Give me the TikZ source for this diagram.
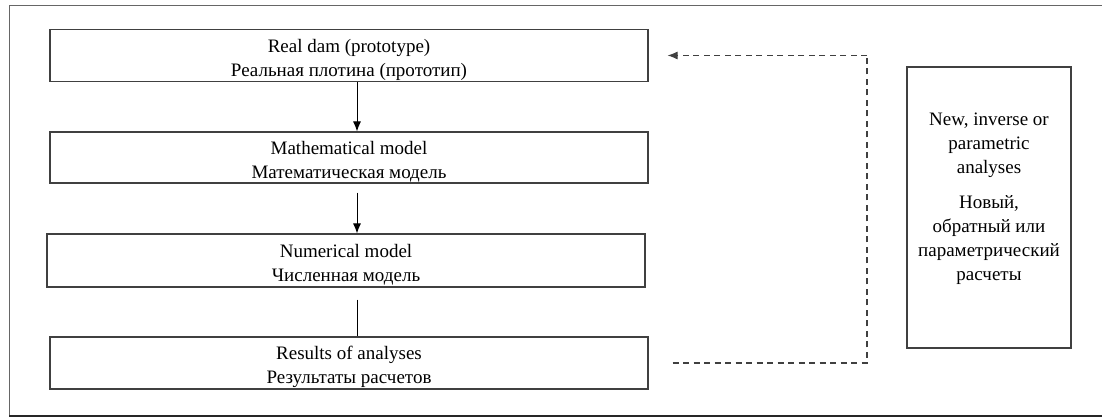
\documentclass[tikz,border=0pt]{standalone}
\usepackage{fontspec}
\setmainfont{Liberation Serif}
\usetikzlibrary{arrows.meta, positioning}

\begin{document}
\begin{tikzpicture}[x=1pt, y=-1pt, >={Latex[length=10pt,width=8pt]},
  stage/.style={draw=black!75, line width=1.1pt, minimum width=598pt, minimum height=52pt,
    align=center, inner sep=0pt, font=\fontsize{19}{24}\selectfont, text height=46pt},
  sidebox/.style={draw=black!75, line width=1.1pt, minimum width=164pt, minimum height=281pt},
  feedback/.style={draw=black!75, line width=1.1pt, dash pattern=on 6pt off 4.5pt}]
\useasboundingbox (0,0) rectangle (1102,419);
% outer frame
\draw[black!60, line width=0.9pt] (1110,5) -- (9,5) -- (9,416);
\draw[black!85, line width=1.6pt] (9,416) -- (1110,416);

\node[stage] (real) at (349,55.5) {Real dam (prototype)\\Реальная плотина (прототип)};
\node[stage, minimum height=51pt] (mathm) at (349,157.5) {Mathematical model\\Математическая модель};
\node[stage, minimum height=53pt] (numm) at (346,260.5) {Numerical model\\Численная модель};
\node[stage] (results) at (349,363) {Results of analyses\\Результаты расчетов};

\node[sidebox,
  label={[align=center, font=\fontsize{19}{24}\selectfont, yshift=9pt]center:
    New, inverse or\\parametric\\analyses\\[11pt]Новый,\\обратный или\\параметрический\\расчеты}]
  (redo) at (989,207.5) {};

\draw[->, line width=1pt] ([xshift=8pt]real.south) -- ([xshift=8pt]mathm.north);
\draw[->, line width=1pt] ([xshift=8pt,yshift=-9pt]mathm.south) -- ([xshift=11pt]numm.north);
\draw[line width=1pt] ([xshift=11pt,yshift=-12pt]numm.south) -- ([xshift=8pt]results.north);

\coordinate (turn) at (867,0);
\draw[feedback] ([xshift=24pt]results.east) -- (results.east -| turn)
  -- (real.east -| turn);
\draw[feedback, ->] (real.east -| turn) -- ([xshift=19pt]real.east);
\end{tikzpicture}
\end{document}
